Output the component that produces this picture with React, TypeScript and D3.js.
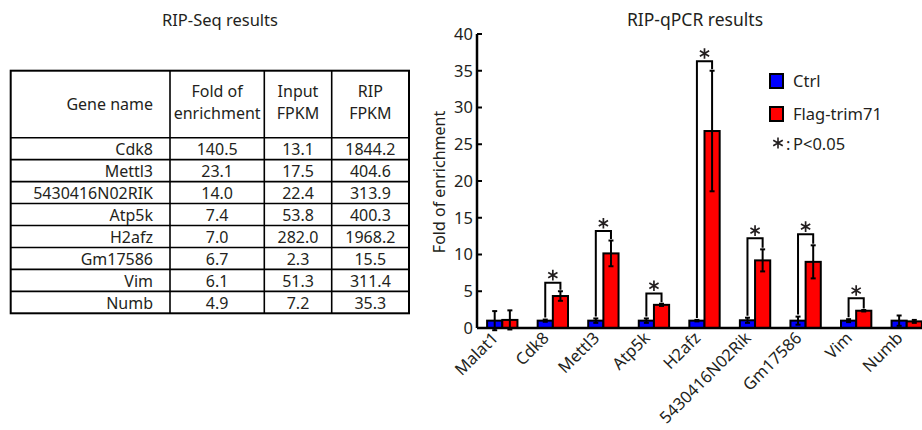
import React from "react";
import * as d3 from "d3";

// ---------- Table data (RIP-Seq results) ----------
const tableGenes = ["Cdk8", "Mettl3", "5430416N02RIK", "Atp5k", "H2afz", "Gm17586", "Vim", "Numb"];
const tableFold = ["140.5", "23.1", "14.0", "7.4", "7.0", "6.7", "6.1", "4.9"];
const tableInput = ["13.1", "17.5", "22.4", "53.8", "282.0", "2.3", "51.3", "7.2"];
const tableRip = ["1844.2", "404.6", "313.9", "400.3", "1968.2", "15.5", "311.4", "35.3"];

// ---------- Bar chart data (RIP-qPCR results) ----------
const genes = ["Malat1", "Cdk8", "Mettl3", "Atp5k", "H2afz", "5430416N02Rik", "Gm17586", "Vim", "Numb"];
const series = ["Ctrl", "Flag-trim71"];
const ctrlValues = [1.0, 1.0, 1.0, 1.0, 1.0, 1.05, 1.0, 1.0, 1.0];
const ctrlErrors = [1.3, 0.15, 0.3, 0.3, 0.1, 0.35, 0.55, 0.2, 0.7];
const flagValues = [1.1, 4.35, 10.15, 3.15, 26.8, 9.2, 9.0, 2.35, 0.9];
const flagErrors = [1.3, 0.65, 1.75, 0.15, 8.2, 1.5, 2.25, 0.1, 0.2];
const sigGenes = ["Cdk8", "Mettl3", "Atp5k", "H2afz", "5430416N02Rik", "Gm17586", "Vim"];
const sigHeights = [6.15, 13.2, 4.7, 36.3, 12.2, 12.75, 4.05];
const yTicks = [0, 5, 10, 15, 20, 25, 30, 35, 40];

const W = 922;
const H = 430;
const FONT = "'Noto Sans', 'Open Sans', sans-serif";
const INK = "#231f20";
const BLUE = "#0000ff";
const RED = "#ff0000";

export default function App() {
  // ---- chart scales ----
  const y = d3.scaleLinear().domain([0, 40]).range([328, 34]);
  const x0 = d3.scaleBand<string>().domain(genes).range([477, 932]).paddingInner(0.4).paddingOuter(0.2);
  const x1 = d3.scaleBand<string>().domain(series).range([0, x0.bandwidth()]);
  const bw = x1.bandwidth();

  const star = d3.symbol(d3.symbolAsterisk, 80)() as string;
  const starLegend = d3.symbol(d3.symbolAsterisk, 85)() as string;

  // ---- table scales ----
  const colEdges = [10.7, 170, 264.3, 331.7, 409];
  const headerTop = 70.7;
  const headerBottom = 137.7;
  const rowScale = d3.scaleBand<number>().domain(d3.range(tableGenes.length)).range([headerBottom, 313.3]);
  const colCenter = (i: number) => (colEdges[i] + colEdges[i + 1]) / 2;

  const data = genes.map((g, i) => ({
    gene: g,
    ctrl: ctrlValues[i],
    ctrlErr: ctrlErrors[i],
    flag: flagValues[i],
    flagErr: flagErrors[i],
  }));

  const errBar = (cx: number, v: number, e: number, key: string) => {
    const top = y(v + e);
    const bot = y(v - e);
    return (
      <g key={key} stroke="#000" strokeWidth={2}>
        <line x1={cx} x2={cx} y1={top} y2={bot} />
        <line x1={cx - 2.5} x2={cx + 2.5} y1={top} y2={top} />
        <line x1={cx - 2.5} x2={cx + 2.5} y1={bot} y2={bot} />
      </g>
    );
  };

  return (
    <svg
      width={W}
      height={H}
      viewBox={`0 0 ${W} ${H}`}
      style={{ position: "absolute", left: 0, top: 0, display: "block", background: "#fff" }}
      fontFamily={FONT}
    >
      <rect x={0} y={0} width={W} height={H} fill="#fff" />

      {/* ================= TABLE ================= */}
      <text x={220} y={26} textAnchor="middle" fontSize={16.5} fill={INK}>
        RIP-Seq results
      </text>
      <g stroke="#000" fill="none">
        <rect x={colEdges[0]} y={headerTop} width={colEdges[4] - colEdges[0]} height={313.3 - headerTop} strokeWidth={2} />
        {colEdges.slice(1, 4).map((cx, i) => (
          <line key={"c" + i} x1={cx} x2={cx} y1={headerTop} y2={313.3} strokeWidth={1.6} />
        ))}
        {[headerBottom, ...tableGenes.slice(1).map((_, i) => rowScale(i + 1) as number)].map((ry, i) => (
          <line key={"r" + i} x1={colEdges[0]} x2={colEdges[4]} y1={ry} y2={ry} strokeWidth={1.6} />
        ))}
      </g>
      <g fontSize={16} fill={INK}>
        <text x={153} y={110} textAnchor="end">Gene name</text>
        <text x={colCenter(1)} y={97} textAnchor="middle">Fold of</text>
        <text x={colCenter(1)} y={119} textAnchor="middle">enrichment</text>
        <text x={colCenter(2)} y={97} textAnchor="middle">Input</text>
        <text x={colCenter(2)} y={119} textAnchor="middle">FPKM</text>
        <text x={colCenter(3)} y={97} textAnchor="middle">RIP</text>
        <text x={colCenter(3)} y={119} textAnchor="middle">FPKM</text>
        {tableGenes.map((g, i) => {
          const by = (rowScale(i) as number) + 17.3;
          return (
            <g key={g}>
              <text x={153} y={by} textAnchor="end">{g}</text>
              <text x={colCenter(1)} y={by} textAnchor="middle">{tableFold[i]}</text>
              <text x={colCenter(2)} y={by} textAnchor="middle">{tableInput[i]}</text>
              <text x={colCenter(3)} y={by} textAnchor="middle">{tableRip[i]}</text>
            </g>
          );
        })}
      </g>

      {/* ================= BAR CHART ================= */}
      <text x={695} y={26} textAnchor="middle" fontSize={17.5} fill={INK}>
        RIP-qPCR results
      </text>

      {/* y axis label */}
      <text
        transform={`translate(445,182) rotate(-90)`}
        textAnchor="middle"
        fontSize={16}
        fill={INK}
      >
        Fold of enrichment
      </text>

      {/* bars */}
      {data.map((d) => {
        const gx = x0(d.gene) as number;
        const cxC = gx + (x1("Ctrl") as number);
        const cxF = gx + (x1("Flag-trim71") as number);
        return (
          <g key={d.gene}>
            <rect x={cxC} y={y(d.ctrl)} width={bw} height={y(0) - y(d.ctrl)} fill={BLUE} stroke="#000" strokeWidth={2} />
            <rect x={cxF} y={y(d.flag)} width={bw} height={y(0) - y(d.flag)} fill={RED} stroke="#000" strokeWidth={2} />
            {errBar(cxC + bw / 2, d.ctrl, d.ctrlErr, "ec")}
            {errBar(cxF + bw / 2, d.flag, d.flagErr, "ef")}
          </g>
        );
      })}

      {/* significance brackets */}
      {sigGenes.map((g, i) => {
        const d = data[genes.indexOf(g)];
        const gx = x0(g) as number;
        const lx = gx + (x1("Ctrl") as number) + bw / 2;
        const rx = gx + (x1("Flag-trim71") as number) + bw / 2;
        const top = y(sigHeights[i]);
        const lBot = y(d.ctrl + d.ctrlErr) - 2;
        const rBot = y(d.flag + d.flagErr) - 1.5;
        return (
          <g key={"sig" + g}>
            <path
              d={`M${lx},${lBot}V${top}H${rx}V${rBot}`}
              fill="none"
              stroke="#000"
              strokeWidth={2}
            />
            <path d={star} transform={`translate(${(lx + rx) / 2},${top - 7.7})`} fill="none" stroke={INK} strokeWidth={1.7} />
          </g>
        );
      })}

      {/* axes */}
      <line x1={477} x2={W} y1={y(0)} y2={y(0)} stroke="#000" strokeWidth={2.5} />
      <line x1={477} x2={477} y1={y(40)} y2={y(0)} stroke="#000" strokeWidth={2.5} />
      {yTicks.map((t) => (
        <g key={"t" + t}>
          <line x1={477} x2={482} y1={y(t)} y2={y(t)} stroke="#000" strokeWidth={2} />
          <text x={473} y={y(t)} dy="0.36em" textAnchor="end" fontSize={16.5} fill={INK}>
            {t}
          </text>
        </g>
      ))}
      {genes.map((g) => {
        const cx = (x0(g) as number) + x0.bandwidth() / 2;
        return (
          <text
            key={"xl" + g}
            transform={`translate(${cx - 3},339) rotate(-45)`}
            textAnchor="end"
            fontSize={16.5}
            fill={INK}
          >
            {g}
          </text>
        );
      })}

      {/* legend */}
      <rect x={770} y={74} width={13} height={14} fill={BLUE} stroke="#000" strokeWidth={2} />
      <text x={793} y={87} fontSize={16.5} fill={INK}>Ctrl</text>
      <rect x={770} y={107} width={13} height={14} fill={RED} stroke="#000" strokeWidth={2} />
      <text x={793} y={120} fontSize={16.5} fill={INK}>Flag-trim71</text>
      <path d={starLegend} transform="translate(778,143)" fill="none" stroke={INK} strokeWidth={1.6} />
      <text x={786} y={150} fontSize={16.5} fill={INK}>:</text>
      <text x={793} y={150} fontSize={16.5} fill={INK}>P&lt;0.05</text>
    </svg>
  );
}
